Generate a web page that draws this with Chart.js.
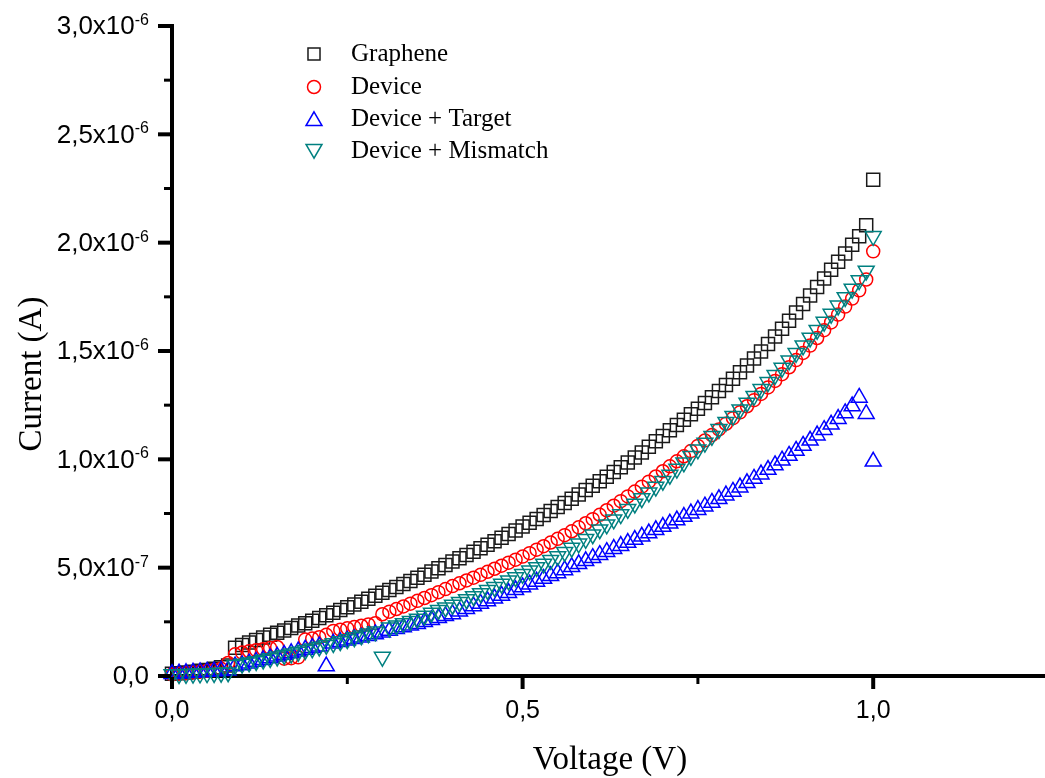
<!DOCTYPE html>
<html>
<head>
<meta charset="utf-8">
<script src="https://cdn.jsdelivr.net/npm/chart.js@4.4.0/dist/chart.umd.min.js"></script>
<style>
  html, body { margin: 0; padding: 0; background: #fff; }
  canvas { display: block; }
</style>
</head>
<body>
<canvas id="chart" width="1045" height="778"></canvas>
<script>
// Voltage sweep (V)
const voltage = [
  0.00, 0.01, 0.02, 0.03, 0.04, 0.05, 0.06, 0.07, 0.08, 0.09,
  0.10, 0.11, 0.12, 0.13, 0.14, 0.15, 0.16, 0.17, 0.18, 0.19,
  0.20, 0.21, 0.22, 0.23, 0.24, 0.25, 0.26, 0.27, 0.28, 0.29,
  0.30, 0.31, 0.32, 0.33, 0.34, 0.35, 0.36, 0.37, 0.38, 0.39,
  0.40, 0.41, 0.42, 0.43, 0.44, 0.45, 0.46, 0.47, 0.48, 0.49,
  0.50, 0.51, 0.52, 0.53, 0.54, 0.55, 0.56, 0.57, 0.58, 0.59,
  0.60, 0.61, 0.62, 0.63, 0.64, 0.65, 0.66, 0.67, 0.68, 0.69,
  0.70, 0.71, 0.72, 0.73, 0.74, 0.75, 0.76, 0.77, 0.78, 0.79,
  0.80, 0.81, 0.82, 0.83, 0.84, 0.85, 0.86, 0.87, 0.88, 0.89,
  0.90, 0.91, 0.92, 0.93, 0.94, 0.95, 0.96, 0.97, 0.98, 0.99,
  1.00
];

// Currents, in units of 1e-6 A
const graphene = [
  0.010, 0.013, 0.016, 0.020, 0.024, 0.028, 0.033, 0.040, 0.048, 0.130,
  0.143, 0.155, 0.166, 0.178, 0.190, 0.200, 0.210, 0.222, 0.233, 0.244,
  0.255, 0.268, 0.280, 0.292, 0.305, 0.317, 0.330, 0.343, 0.356, 0.370,
  0.384, 0.397, 0.411, 0.425, 0.439, 0.453, 0.467, 0.482, 0.497, 0.512,
  0.528, 0.543, 0.558, 0.574, 0.590, 0.606, 0.622, 0.638, 0.655, 0.672,
  0.690, 0.707, 0.725, 0.743, 0.762, 0.780, 0.799, 0.818, 0.838, 0.858,
  0.878, 0.899, 0.920, 0.941, 0.963, 0.985, 1.008, 1.031, 1.058, 1.083,
  1.108, 1.134, 1.158, 1.183, 1.208, 1.234, 1.260, 1.287, 1.315, 1.343,
  1.372, 1.402, 1.433, 1.465, 1.498, 1.532, 1.567, 1.603, 1.640, 1.678,
  1.717, 1.756, 1.795, 1.835, 1.875, 1.912, 1.950, 1.990, 2.030, 2.080,
  2.290
];

const device = [
  0.007, 0.010, 0.013, 0.016, 0.020, 0.024, 0.028, 0.033, 0.060, 0.100,
  0.108, 0.114, 0.119, 0.124, 0.129, 0.134, 0.080, 0.082, 0.086, 0.168,
  0.173, 0.179, 0.190, 0.208, 0.214, 0.220, 0.226, 0.232, 0.238, 0.244,
  0.285, 0.297, 0.309, 0.321, 0.334, 0.347, 0.360, 0.373, 0.387, 0.401,
  0.415, 0.428, 0.441, 0.454, 0.467, 0.481, 0.495, 0.509, 0.523, 0.537,
  0.551, 0.567, 0.583, 0.599, 0.616, 0.633, 0.650, 0.668, 0.686, 0.705,
  0.724, 0.744, 0.765, 0.786, 0.807, 0.829, 0.851, 0.874, 0.897, 0.921,
  0.945, 0.968, 0.991, 1.014, 1.038, 1.062, 1.087, 1.112, 1.138, 1.164,
  1.190, 1.217, 1.245, 1.273, 1.302, 1.332, 1.362, 1.393, 1.425, 1.458,
  1.491, 1.525, 1.560, 1.596, 1.632, 1.668, 1.705, 1.742, 1.780, 1.830,
  1.960
];

const deviceTarget = [
  0.010, 0.012, 0.014, 0.016, 0.018, 0.020, 0.022, 0.024, 0.026, 0.045,
  0.050, 0.058, 0.066, 0.074, 0.082, 0.090, 0.098, 0.106, 0.114, 0.122,
  0.130, 0.137, 0.045, 0.150, 0.157, 0.164, 0.171, 0.178, 0.185, 0.193,
  0.201, 0.209, 0.217, 0.225, 0.233, 0.241, 0.250, 0.259, 0.268, 0.277,
  0.286, 0.298, 0.310, 0.322, 0.334, 0.346, 0.358, 0.371, 0.384, 0.397,
  0.410, 0.423, 0.436, 0.449, 0.462, 0.475, 0.489, 0.503, 0.517, 0.531,
  0.545, 0.559, 0.573, 0.587, 0.601, 0.615, 0.629, 0.644, 0.659, 0.674,
  0.689, 0.704, 0.719, 0.735, 0.751, 0.767, 0.783, 0.800, 0.817, 0.834,
  0.851, 0.871, 0.891, 0.911, 0.931, 0.952, 0.973, 0.995, 1.017, 1.040,
  1.063, 1.087, 1.111, 1.136, 1.161, 1.187, 1.213, 1.245, 1.285, 1.210,
  0.990
];

const deviceMismatch = [
  0.008, 0.008, 0.009, 0.010, 0.011, 0.012, 0.013, 0.014, 0.016, 0.050,
  0.056, 0.062, 0.068, 0.075, 0.082, 0.089, 0.096, 0.103, 0.111, 0.119,
  0.127, 0.135, 0.143, 0.151, 0.160, 0.169, 0.178, 0.187, 0.196, 0.205,
  0.088, 0.223, 0.233, 0.243, 0.253, 0.264, 0.278, 0.291, 0.304, 0.316,
  0.328, 0.341, 0.354, 0.368, 0.382, 0.396, 0.410, 0.425, 0.440, 0.455,
  0.470, 0.486, 0.502, 0.518, 0.535, 0.552, 0.572, 0.591, 0.611, 0.632,
  0.653, 0.676, 0.699, 0.722, 0.746, 0.770, 0.795, 0.820, 0.846, 0.873,
  0.900, 0.928, 0.956, 0.985, 1.015, 1.045, 1.076, 1.107, 1.139, 1.172,
  1.200, 1.230, 1.261, 1.292, 1.324, 1.356, 1.389, 1.422, 1.456, 1.490,
  1.525, 1.561, 1.597, 1.634, 1.671, 1.709, 1.748, 1.787, 1.826, 1.870,
  2.030
];

const seriesNames = ['Graphene', 'Device', 'Device + Target', 'Device + Mismatch'];

// Axis ticks
const xMajorTicks = [0, 0.5, 1.0];
const xMinorTicks = [0.25, 0.75];
const xTickLabels = ['0,0', '0,5', '1,0'];
const yMajorTicks = [0, 0.5, 1.0, 1.5, 2.0, 2.5, 3.0];
const yMinorTicks = [0.25, 0.75, 1.25, 1.75, 2.25, 2.75];
const yTickBase = ['0,0', '5,0x10', '1,0x10', '1,5x10', '2,0x10', '2,5x10', '3,0x10'];
const yTickExp = ['', '-7', '-6', '-6', '-6', '-6', '-6'];

const xTitle = 'Voltage (V)';
const yTitle = 'Current (A)';

const styles = [
  { color: '#1a1a1a', pointStyle: 'rect', radius: 9.2, rotation: 0 },
  { color: '#ff0000', pointStyle: 'circle', radius: 6.5, rotation: 0 },
  { color: '#0000ff', pointStyle: 'triangle', radius: 9.2, rotation: 0 },
  { color: '#008080', pointStyle: 'triangle', radius: 9.2, rotation: 180 },
];

const sansFont = "'Liberation Sans', Arial, sans-serif";
const serifFont = "'Liberation Serif', 'Times New Roman', serif";

function toPoints(values) {
  return values.map((v, i) => ({ x: voltage[i], y: v }));
}

const allSeries = [graphene, device, deviceTarget, deviceMismatch];

const datasets = allSeries.map((values, i) => ({
  label: seriesNames[i],
  data: toPoints(values),
  showLine: false,
  pointStyle: styles[i].pointStyle,
  pointRadius: styles[i].radius,
  pointRotation: styles[i].rotation,
  pointBorderColor: styles[i].color,
  pointBackgroundColor: 'rgba(0,0,0,0)',
  pointBorderWidth: 1.5,
  order: 4 - i,
  clip: false,
}));

// ticks, y labels with exponents, axis titles and the legend
const decorations = {
  id: 'decorations',
  afterDraw(chart) {
    const { ctx, scales: { x, y } } = chart;
    const axisY = y.getPixelForValue(0) + 1;
    const axisX = x.getPixelForValue(0) - 1;
    ctx.save();
    ctx.strokeStyle = '#000';
    ctx.fillStyle = '#000';
    ctx.lineCap = 'butt';

    // x ticks (outward, downward)
    ctx.lineWidth = 4;
    xMajorTicks.forEach((v) => {
      const px = x.getPixelForValue(v);
      ctx.beginPath(); ctx.moveTo(px, axisY); ctx.lineTo(px, axisY + 12); ctx.stroke();
    });
    ctx.lineWidth = 3;
    xMinorTicks.forEach((v) => {
      const px = x.getPixelForValue(v);
      ctx.beginPath(); ctx.moveTo(px, axisY); ctx.lineTo(px, axisY + 7); ctx.stroke();
    });

    // y ticks (outward, to the left)
    ctx.lineWidth = 4;
    yMajorTicks.forEach((v) => {
      const py = y.getPixelForValue(v);
      ctx.beginPath(); ctx.moveTo(axisX, py); ctx.lineTo(axisX - 13, py); ctx.stroke();
    });
    ctx.lineWidth = 3;
    yMinorTicks.forEach((v) => {
      const py = y.getPixelForValue(v);
      ctx.beginPath(); ctx.moveTo(axisX, py); ctx.lineTo(axisX - 7, py); ctx.stroke();
    });

    // y tick labels with superscript exponent
    const rightEdge = 149;
    yMajorTicks.forEach((v, i) => {
      const py = y.getPixelForValue(v);
      ctx.font = '16px ' + sansFont;
      const expW = yTickExp[i] ? ctx.measureText(yTickExp[i]).width : 0;
      if (yTickExp[i]) {
        ctx.textAlign = 'right';
        ctx.textBaseline = 'alphabetic';
        ctx.fillText(yTickExp[i], rightEdge, py - 1);
      }
      ctx.font = '26px ' + sansFont;
      ctx.textAlign = 'right';
      ctx.textBaseline = 'middle';
      ctx.fillText(yTickBase[i], rightEdge - expW, py + 1);
    });

    // axis titles
    ctx.font = '33px ' + serifFont;
    ctx.textAlign = 'center';
    ctx.textBaseline = 'middle';
    ctx.fillText(xTitle, 610, 760);
    ctx.save();
    ctx.translate(32, 374);
    ctx.rotate(-Math.PI / 2);
    ctx.fillText(yTitle, 0, 0);
    ctx.restore();

    // legend
    const rows = [54, 87, 119, 151];
    seriesNames.forEach((name, i) => {
      ctx.lineWidth = 1.5;
      ctx.strokeStyle = styles[i].color;
      ctx.fillStyle = 'rgba(0,0,0,0)';
      const r = i === 0 ? 8.5 : styles[i].radius;
      Chart.helpers.drawPoint(ctx, {
        pointStyle: styles[i].pointStyle,
        radius: r,
        rotation: styles[i].rotation,
        borderWidth: 1.5,
      }, 314, rows[i] + (i === 2 ? 2 : i === 3 ? -2 : 0));
      ctx.fillStyle = '#000';
      ctx.font = '25px ' + serifFont;
      ctx.textAlign = 'left';
      ctx.textBaseline = 'middle';
      ctx.fillText(name, 351, rows[i]);
    });
    ctx.restore();
  },
};

new Chart(document.getElementById('chart'), {
  type: 'scatter',
  data: { datasets },
  options: {
    responsive: false,
    animation: false,
    devicePixelRatio: 1,
    events: [],
    layout: { autoPadding: false, padding: { top: 26, right: 0, bottom: 0, left: 0 } },
    plugins: {
      legend: { display: false },
      tooltip: { enabled: false },
    },
    scales: {
      x: {
        type: 'linear',
        min: 0,
        max: 1.245,
        afterFit: (scale) => { scale.height = 102; },
        afterBuildTicks: (scale) => { scale.ticks = xMajorTicks.map((v) => ({ value: v })); },
        grid: { display: false, drawTicks: false },
        border: { display: true, color: '#000', width: 4 },
        ticks: {
          padding: 20,
          color: '#000',
          font: { family: sansFont, size: 25 },
          callback: (value) => {
            const i = xMajorTicks.indexOf(value);
            return i >= 0 ? xTickLabels[i] : '';
          },
          maxRotation: 0,
          autoSkip: false,
        },
      },
      y: {
        type: 'linear',
        min: 0,
        max: 3.0,
        afterFit: (scale) => { scale.width = 172; },
        grid: { display: false, drawTicks: false },
        border: { display: true, color: '#000', width: 4 },
        ticks: { display: false },
      },
    },
  },
  plugins: [decorations],
});
</script>
</body>
</html>
